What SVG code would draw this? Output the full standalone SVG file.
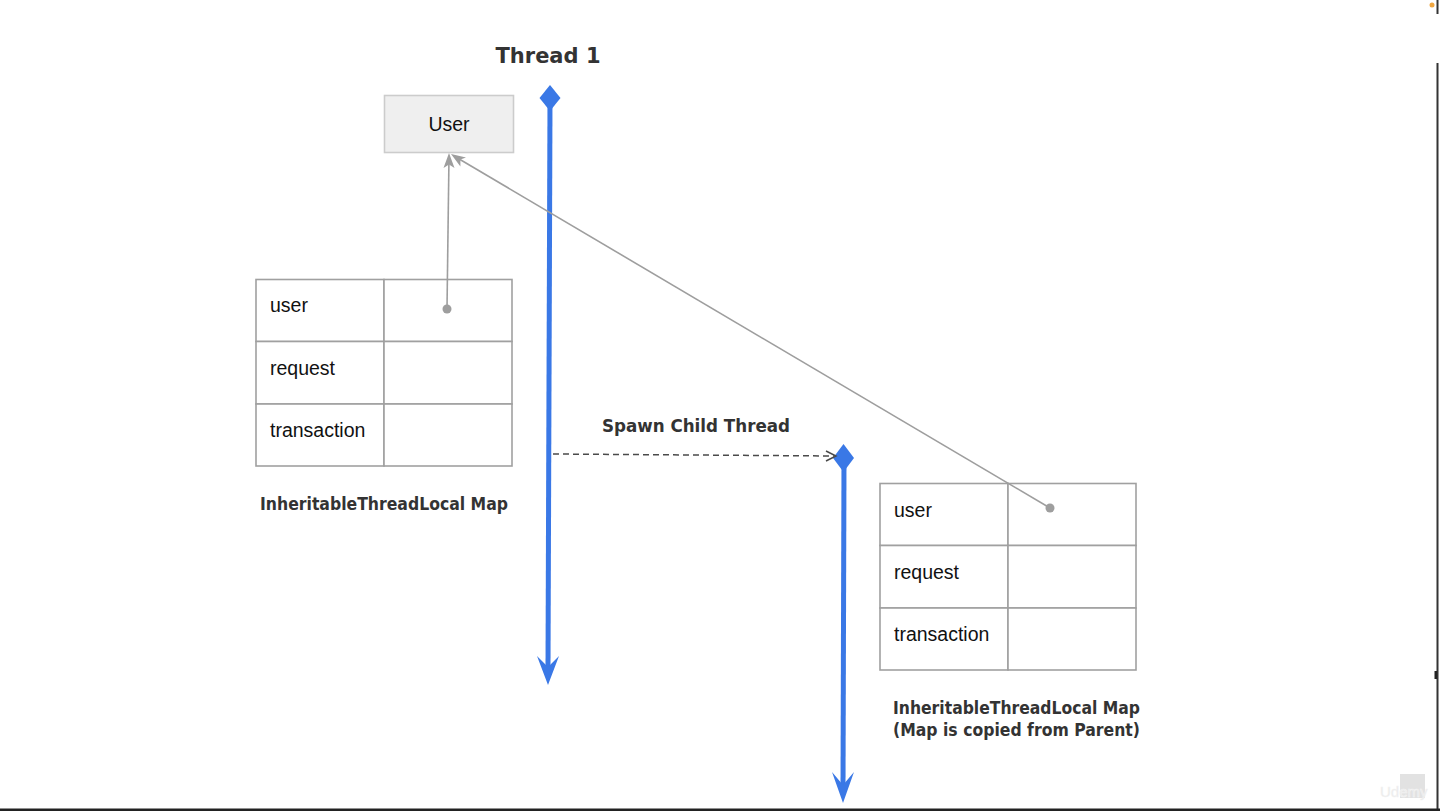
<svg xmlns="http://www.w3.org/2000/svg" width="1440" height="811" viewBox="0 0 1440 811">
  <style>
    .hand { font-family: "Comic Sans MS", "DejaVu Sans", sans-serif; font-weight: bold; fill: #333333; }
    .lbl { font-family: "Liberation Sans", Arial, sans-serif; font-size: 19.5px; fill: #111111; }
    .cell { fill: #ffffff; stroke: #a0a0a0; stroke-width: 1.6; }
    .ref { stroke: #9e9e9e; stroke-width: 1.6; fill: none; }
    .refhead { fill: #9e9e9e; }
    .thread { stroke: #3a78e6; stroke-width: 5; fill: none; }
    .threadfill { fill: #3a78e6; }
  </style>
  <rect x="0" y="0" width="1440" height="811" fill="#ffffff"/>

  <g id="title">
    <text class="hand" x="548" y="63" font-size="22" text-anchor="middle" textLength="105" lengthAdjust="spacingAndGlyphs">Thread 1</text>
  </g>

  <g id="user">
    <rect x="384.5" y="95.5" width="129" height="57" fill="#efefef" stroke="#cccccc" stroke-width="1.6"/>
    <text class="lbl" x="449" y="131" text-anchor="middle">User</text>
  </g>

  <g id="parent-map">
    <rect class="cell" x="256" y="279.5" width="128" height="62"/>
    <rect class="cell" x="384" y="279.5" width="128" height="62"/>
    <rect class="cell" x="256" y="341.5" width="128" height="62.5"/>
    <rect class="cell" x="384" y="341.5" width="128" height="62.5"/>
    <rect class="cell" x="256" y="404" width="128" height="62"/>
    <rect class="cell" x="384" y="404" width="128" height="62"/>
    <text class="lbl" x="270" y="312">user</text>
    <text class="lbl" x="270" y="375">request</text>
    <text class="lbl" x="270" y="437">transaction</text>
    <text class="hand" x="260" y="510" font-size="17" textLength="248" lengthAdjust="spacingAndGlyphs">InheritableThreadLocal Map</text>
  </g>

  <g id="child-map">
    <rect class="cell" x="880" y="483.5" width="128" height="62"/>
    <rect class="cell" x="1008" y="483.5" width="128" height="62"/>
    <rect class="cell" x="880" y="545.5" width="128" height="62.5"/>
    <rect class="cell" x="1008" y="545.5" width="128" height="62.5"/>
    <rect class="cell" x="880" y="608" width="128" height="62"/>
    <rect class="cell" x="1008" y="608" width="128" height="62"/>
    <text class="lbl" x="894" y="517">user</text>
    <text class="lbl" x="894" y="579">request</text>
    <text class="lbl" x="894" y="641">transaction</text>
    <text class="hand" x="893" y="714" font-size="17" textLength="247" lengthAdjust="spacingAndGlyphs">InheritableThreadLocal Map</text>
    <text class="hand" x="893" y="736" font-size="17" textLength="247" lengthAdjust="spacingAndGlyphs">(Map is copied from Parent)</text>
  </g>

  <g id="thread-1">
    <line class="thread" x1="550" y1="100" x2="548" y2="670"/>
    <path class="threadfill" d="M550,85 L560.5,98 L550,111 L539.5,98 Z"/>
    <path class="threadfill" d="M548,685 L559,656 L548,667 L537,656 Z"/>
  </g>

  <g id="child-thread">
    <line class="thread" x1="844" y1="460" x2="843" y2="788"/>
    <path class="threadfill" d="M843.5,444 L854,458 L843.5,472 L833,458 Z"/>
    <path class="threadfill" d="M843,803 L854,772 L843,785 L832,772 Z"/>
  </g>

  <g id="connectors">
    <g id="spawn">
      <line x1="553" y1="454" x2="834" y2="456" stroke="#4a4a4a" stroke-width="1.5" stroke-dasharray="6 4"/>
      <path d="M826,451 L836,456 L826,461" fill="none" stroke="#4a4a4a" stroke-width="1.5"/>
      <text class="hand" x="602" y="432" font-size="18" textLength="188" lengthAdjust="spacingAndGlyphs">Spawn Child Thread</text>
    </g>
    <g id="parent-user-ref">
      <line class="ref" x1="447" y1="309" x2="448.9" y2="164"/>
      <path class="refhead" d="M449,153 L454.5,168 L449,164.5 L443.5,168 Z"/>
      <circle class="refhead" cx="447" cy="309" r="4.5"/>
    </g>
    <g id="child-user-ref">
      <line class="ref" x1="1050" y1="508" x2="460" y2="159.5"/>
      <path class="refhead" d="M451,154 L466,157.6 L460.4,159.6 L460.4,166.4 Z"/>
      <circle class="refhead" cx="1050" cy="508" r="4.5"/>
    </g>
  </g>

  <g id="frame">
    <line x1="1437.5" y1="0" x2="1437.5" y2="14" stroke="#333333" stroke-width="2"/>
    <line x1="1437.5" y1="63" x2="1437.5" y2="811" stroke="#333333" stroke-width="2"/>
    <rect x="0" y="808.5" width="1440" height="2.5" fill="#222222"/>
    <circle cx="1432" cy="5" r="2.5" fill="#f0a640"/>
    <rect x="1434.5" y="671" width="2.5" height="8" fill="#222222"/>
    <rect x="1400" y="774" width="25" height="24" fill="#e2e2e2"/>
    <text x="1380" y="797" font-family="Liberation Sans, Arial, sans-serif" font-size="15" fill="#e9e9e9" stroke="#f4f4f4" stroke-width="0.5">Udemy</text>
  </g>
</svg>
